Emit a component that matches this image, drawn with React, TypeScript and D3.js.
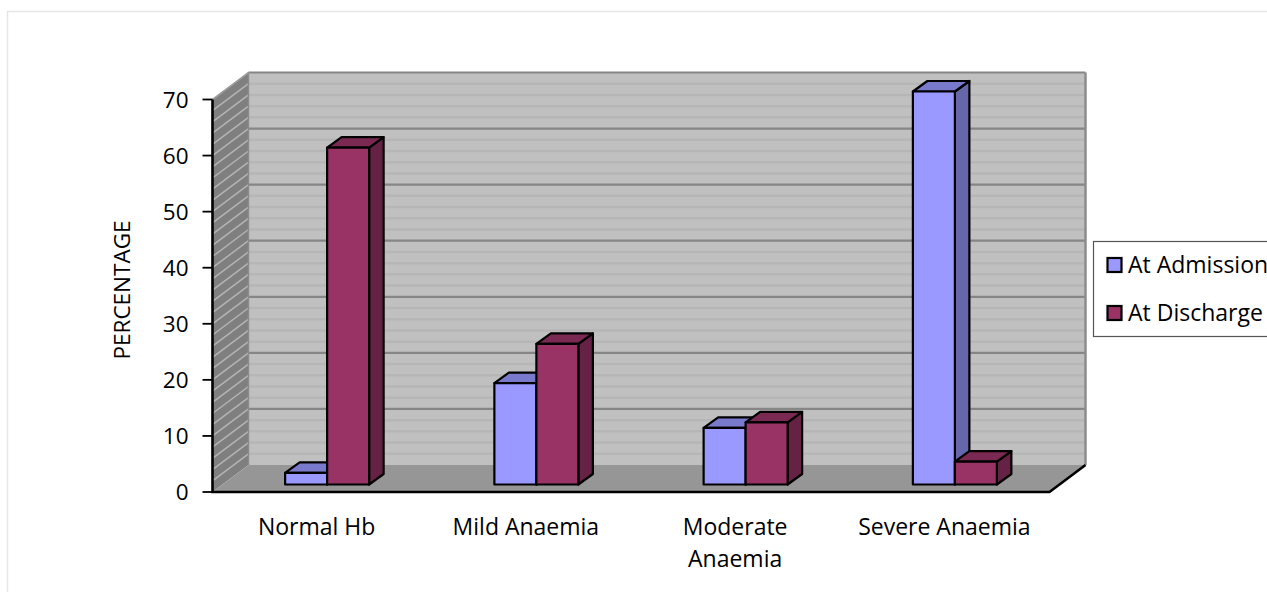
import React from "react";
import * as d3 from "d3";

const categories = ["Normal Hb", "Mild Anaemia", "Moderate Anaemia", "Severe Anaemia"];
const categoryLines = [["Normal Hb"], ["Mild Anaemia"], ["Moderate", "Anaemia"], ["Severe Anaemia"]];
const seriesNames = ["At Admission", "At Discharge"];
const atAdmission = [2, 18, 10, 70];
const atDischarge = [60, 25, 11, 4];
const yTicks = [0, 10, 20, 30, 40, 50, 60, 70];
const minorTicks = d3.range(0, 71, 2).filter((v) => v % 10 !== 0);
const yTitle = "PERCENTAGE";

const FRONT = ["#9999ff", "#993366"];
const TOP = ["#7a7acc", "#7a2952"];
const SIDE = ["#6666aa", "#662244"];
const FONT = "'Open Sans', Lato, sans-serif";

const W = 1267, H = 592;
const left = 212.5, right = 1049.5, bottom = 492, top = 99.5;
const wallDx = 36, wallDy = -27;
const barDx = 14.5, barDy = -10.5;
const baseShift = -7.5;
const barOffsetX = 10;
const barW = 42;

const y = d3.scaleLinear().domain([0, 70]).range([bottom, top]);
const x = d3.scaleBand<string>().domain(categories).range([left, right]);
const poly = (p: number[][]) => p.map((q) => q.join(",")).join(" ");

function Bar({ cx, i, v, s }: { cx: number; i: number; v: number; s: number }) {
  const x0 = cx + barOffsetX + (s - 1) * barW;
  const x1 = x0 + barW;
  const yb = bottom + baseShift;
  const yt = y(v) + baseShift - 0.5;
  const style = { stroke: "#000", strokeWidth: 2.2, strokeLinejoin: "round" as const };
  return (
    <g key={`${i}-${s}`}>
      <polygon points={poly([[x1, yt], [x1 + barDx, yt + barDy], [x1 + barDx, yb + barDy], [x1, yb]])} fill={SIDE[s]} {...style} />
      <polygon points={poly([[x0, yt], [x0 + barDx, yt + barDy], [x1 + barDx, yt + barDy], [x1, yt]])} fill={TOP[s]} {...style} />
      <rect x={x0} y={yt} width={barW} height={yb - yt} fill={FRONT[s]} {...style} />
    </g>
  );
}

export default function App() {
  return (
    <svg width={W} height={H} viewBox={`0 0 ${W} ${H}`} style={{ position: "fixed", left: 0, top: 0, background: "#fff" }} fontFamily={FONT}>
      <path d={`M7.5 ${H}V11.5H${W}`} fill="none" stroke="#e6e6e6" strokeWidth={1.5} />

      <rect x={left + wallDx} y={top + wallDy} width={right - left} height={bottom - top} fill="#c0c0c0" />
      <polygon points={poly([[left, top], [left + wallDx, top + wallDy], [left + wallDx, bottom + wallDy], [left, bottom]])} fill="#7f7f7f" />
      <polygon points={poly([[left, bottom], [left + wallDx, bottom + wallDy], [right + wallDx, bottom + wallDy], [right, bottom]])} fill="#969696" />

      {minorTicks.map((t) => (
        <g key={t}>
          <line x1={left + wallDx} x2={right + wallDx} y1={y(t) + wallDy} y2={y(t) + wallDy} stroke="#b6b6b6" strokeWidth={2.5} />
          <line x1={left} x2={left + wallDx} y1={y(t)} y2={y(t) + wallDy} stroke="#b4b4b4" strokeWidth={1.5} />
        </g>
      ))}
      {yTicks.slice(1).map((t) => (
        <g key={t}>
          <line x1={left + wallDx} x2={right + wallDx} y1={y(t) + wallDy} y2={y(t) + wallDy} stroke="#868686" strokeWidth={2.2} />
          <line x1={left} x2={left + wallDx} y1={y(t)} y2={y(t) + wallDy} stroke="#b4b4b4" strokeWidth={1.5} />
        </g>
      ))}
      <line x1={left + wallDx} x2={left + wallDx} y1={top + wallDy} y2={bottom + wallDy} stroke="#8c8c8c" strokeWidth={1.5} />
      <line x1={right + wallDx} x2={right + wallDx} y1={top + wallDy} y2={bottom + wallDy} stroke="#8c8c8c" strokeWidth={2.5} />
      <line x1={left} x2={left + wallDx} y1={top} y2={top + wallDy} stroke="#9a9a9a" strokeWidth={1.5} />

      {categories.map((c, i) => {
        const cx = x(c)! + x.bandwidth() / 2;
        return (
          <g key={c}>
            <Bar cx={cx} i={i} v={atAdmission[i]} s={0} />
            <Bar cx={cx} i={i} v={atDischarge[i]} s={1} />
          </g>
        );
      })}

      <path d={`M${left} ${top}V${bottom}H${right}L${right + wallDx} ${bottom + wallDy}`} fill="none" stroke="#000" strokeWidth={2.6} />
      {yTicks.map((t) => (
        <g key={t}>
          <line x1={left - 10} x2={left} y1={y(t)} y2={y(t)} stroke="#000" strokeWidth={1.8} />
          <text x={188.5} y={y(t) + 8} textAnchor="end" fontSize={22.5} fill="#000">{t}</text>
        </g>
      ))}

      {categories.map((c, i) =>
        categoryLines[i].map((ln, k) => (
          <text key={ln} x={x(c)! + x.bandwidth() / 2 - 0.5} y={535 + k * 32} textAnchor="middle" fontSize={23} fill="#000">{ln}</text>
        ))
      )}

      <text transform="translate(130,290) rotate(-90)" textAnchor="middle" fontSize={22.5} fill="#000">{yTitle}</text>

      <rect x={1093.5} y={241.5} width={190} height={95} fill="#fff" stroke="#555" strokeWidth={1.2} />
      {seriesNames.map((n, i) => (
        <g key={n}>
          <rect x={1107.5} y={258 + i * 48} width={14} height={14} fill={FRONT[i]} stroke="#000" strokeWidth={2.2} />
          <text x={1128} y={272.5 + i * 48} fontSize={23} fill="#000">{n}</text>
        </g>
      ))}
    </svg>
  );
}
